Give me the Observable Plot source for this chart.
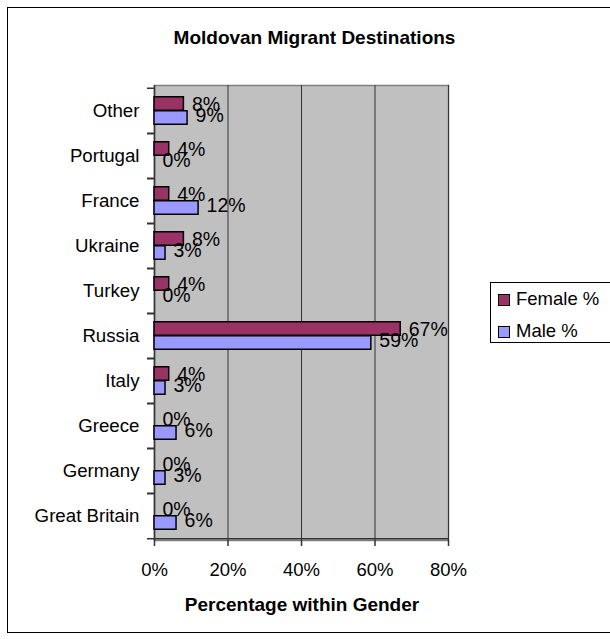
<!DOCTYPE html>
<html><head><meta charset="utf-8">
<script src="https://cdn.jsdelivr.net/npm/d3@7"></script>
<script src="https://cdn.jsdelivr.net/npm/@observablehq/plot@0.6"></script>
<style>
body{margin:0;background:#fff;font-family:"Liberation Sans",Arial,sans-serif;color:#000;}
#wrap{position:relative;width:610px;height:639px;overflow:hidden;}
#chart{position:absolute;left:0;top:0;}
#border{position:absolute;left:7px;top:7px;width:640px;height:626px;border:1px solid #000;box-sizing:border-box;pointer-events:none;}
#title{position:absolute;left:0;width:629px;top:27px;text-align:center;font-weight:bold;font-size:19px;line-height:22px;}
#xlabel{position:absolute;left:0;width:604px;top:594px;text-align:center;font-weight:bold;font-size:19px;line-height:22px;}
#legend{position:absolute;left:490px;top:282px;width:140px;height:61px;border:1px solid #000;box-sizing:border-box;background:#fff;}
.item{position:absolute;left:7px;height:22px;line-height:22px;font-size:18.5px;white-space:nowrap;}
.sw{display:inline-block;width:12px;height:12px;border:1.5px solid #000;box-sizing:border-box;margin-right:6px;vertical-align:-1px;}
</style></head><body>
<div id="wrap">
  <div id="chart"></div>
  <div id="border"></div>
  <div id="title">Moldovan Migrant Destinations</div>
  <div id="xlabel">Percentage within Gender</div>
  <div id="legend"></div>
</div>
<script>
const destinations = ["Other","Portugal","France","Ukraine","Turkey","Russia","Italy","Greece","Germany","Great Britain"];
const femalePct = [8,4,4,8,4,67,4,0,0,0];
const malePct   = [9,0,12,3,0,59,3,6,3,6];
const xTicks = [0,20,40,60,80];
const seriesNames = ["Female %","Male %"];
const seriesColors = ["#993366","#9999FF"];

const female = destinations.map((d,i)=>({dest:d, value:femalePct[i]}));
const male = destinations.map((d,i)=>({dest:d, value:malePct[i]}));

const W = 610, H = 639, mt = 85, mb = 99, ml = 154, mr = 162;
const step = (H - mt - mb) / destinations.length;
const barH = 14;
const gap = (step - 2 * barH) / 2;

const chart = Plot.plot({
  width: W, height: H,
  marginLeft: ml, marginRight: mr, marginTop: mt, marginBottom: mb,
  style: {fontFamily: "Liberation Sans, Arial, sans-serif", fontSize: "18px", background: "transparent", color: "#000", overflow: "visible"},
  x: {domain: [0, 80], label: null},
  y: {domain: destinations, padding: 0, label: null},
  marks: [
    Plot.frame({fill: "#C0C0C0", stroke: "#808080", strokeWidth: 1.5}),
    Plot.gridX(xTicks, {stroke: "#333", strokeOpacity: 1, strokeWidth: 1}),
    Plot.axisX(xTicks, {tickSize: 6, tickPadding: 16, tickFormat: d => d + "%", stroke: "#333", strokeWidth: 1.5, fontSize: 18.5, label: null}),
    Plot.axisY({tickSize: 7, tickFormat: () => "", dy: step / 2, stroke: "#333", strokeWidth: 1.5, label: null}),
    Plot.axisY({tickSize: 7, tickFormat: () => "", dy: -step / 2, stroke: "#333", strokeWidth: 1.5, label: null}),
    Plot.axisY({tickSize: 0, tickPadding: 15, fontSize: 18.7, label: null}),
    Plot.ruleY([destinations[destinations.length - 1]], {dy: step / 2, stroke: "#333", strokeWidth: 1.5}),
    Plot.ruleX([0], {stroke: "#333", strokeWidth: 1.5}),
    Plot.barX(female, {x: "value", y: "dest", fill: seriesColors[0], stroke: "#000", strokeWidth: 1.5, insetTop: gap, insetBottom: step - gap - barH}),
    Plot.barX(male, {x: "value", y: "dest", fill: seriesColors[1], stroke: "#000", strokeWidth: 1.5, insetTop: gap + barH, insetBottom: gap}),
    Plot.text(male, {x: "value", y: "dest", text: d => d.value + "%", dx: 8, dy: 5, textAnchor: "start", fontSize: 19.5, fill: "#000", ariaLabel: "male-labels"}),
    Plot.text(female, {x: "value", y: "dest", text: d => d.value + "%", dx: 8, dy: -6, textAnchor: "start", fontSize: 19.5, fill: "#000", ariaLabel: "female-labels"})
  ]
});
document.getElementById("chart").appendChild(chart);

// white boxes behind data labels, sized from each rendered label
for (const lab of ["male-labels", "female-labels"]) {
  chart.querySelectorAll(`g[aria-label="${lab}"] text`).forEach(t => {
    const b = t.getBBox();
    const r = document.createElementNS("http://www.w3.org/2000/svg", "rect");
    r.setAttribute("x", b.x - 2);
    r.setAttribute("y", b.y - 3);
    r.setAttribute("width", b.width + 4);
    r.setAttribute("height", b.height + 1);
    r.setAttribute("fill", "#fff");
    r.setAttribute("stroke", "none");
    const tr = t.getAttribute("transform");
    if (tr) r.setAttribute("transform", tr);
    t.parentNode.insertBefore(r, t);
  });
}

const legend = document.getElementById("legend");
seriesNames.forEach((name, i) => {
  const it = document.createElement("div");
  it.className = "item";
  it.style.top = (5 + i * 32) + "px";
  const sw = document.createElement("span");
  sw.className = "sw";
  sw.style.background = seriesColors[i];
  it.appendChild(sw);
  it.appendChild(document.createTextNode(name));
  legend.appendChild(it);
});
</script>
</body></html>
